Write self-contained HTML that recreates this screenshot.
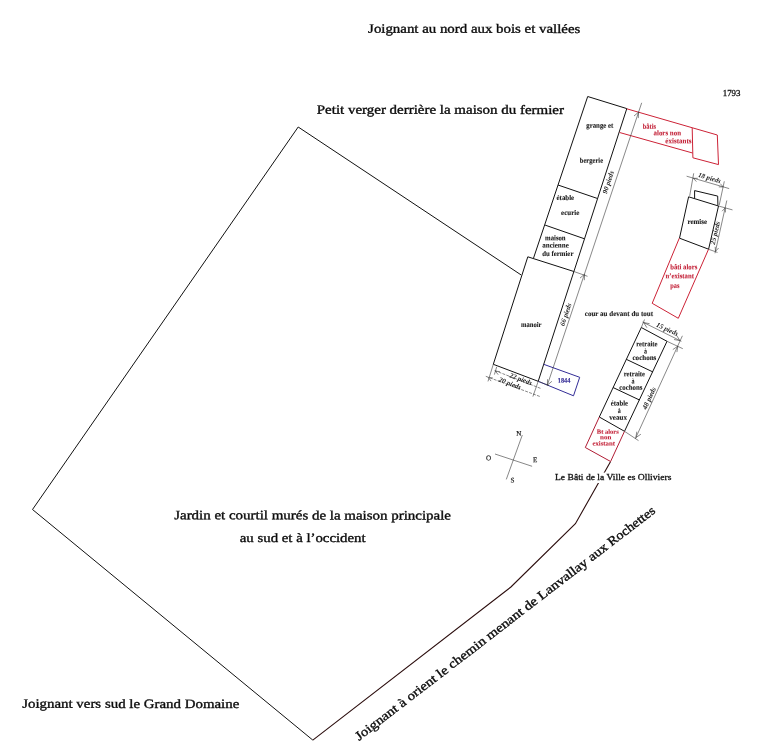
<!DOCTYPE html>
<html><head><meta charset="utf-8">
<style>
html,body{margin:0;padding:0;background:#fff;}
body{width:768px;height:752px;overflow:hidden;}
svg{display:block;will-change:transform;}
text{font-family:"Liberation Serif",serif;}
.t{font-size:12.8px;fill:#0c0c0c;stroke:#0c0c0c;stroke-width:.35;}
.l{font-size:7.3px;font-weight:bold;fill:#1c1c1c;stroke:#1c1c1c;stroke-width:.12;}
.r{font-size:7.3px;font-weight:bold;fill:#c4263c;stroke:#c4263c;stroke-width:.1;}
.d{font-size:7px;font-style:italic;font-weight:bold;fill:#222;}
.c{font-size:7.1px;fill:#222;stroke:#222;stroke-width:.2;}
.k{stroke:#111;stroke-width:1.0;fill:none;stroke-linejoin:miter;}
.g{stroke:#111;stroke-width:1.0;fill:none;}
.rd{stroke:#cc2236;stroke-width:1.0;fill:none;}
.bl{stroke:#322c96;stroke-width:1;fill:none;}
.dm{stroke:#383838;stroke-width:0.6;fill:none;}
</style></head><body>
<svg width="768" height="752" viewBox="0 0 768 752">

<!-- garden outline -->
<polyline class="g" points="521.2,275 298.2,127 32.5,509.5 312.8,740.1"/>
<polyline points="312.8,740.1 510.9,587 575.4,523.7 610.6,461.5" fill="none" stroke="#2c0e0e" stroke-width="1.1"/>

<!-- main long building -->
<polyline class="k" points="533.5,258.2 587.7,96.5 626.8,108.6 573.9,271.5"/>
<line class="k" x1="558" y1="185" x2="597.2" y2="198.4"/>
<line class="k" x1="545.1" y1="225.1" x2="584.2" y2="238.7"/>
<!-- manoir -->
<polygon class="k" points="527.8,256.8 573.9,271.5 538.2,381.3 493.3,364.3"/>

<!-- blue 1844 -->
<polyline class="bl" points="543.7,364.3 579.7,377.3 573.5,395.8 538.2,381.3"/>
<text transform="rotate(0.06 564 382)" x="557.8" y="382.7" textLength="12.6" lengthAdjust="spacingAndGlyphs" style="font-size:7.1px;font-weight:bold;fill:#3a3299;stroke:#3a3299;stroke-width:.15">1844</text>

<!-- red batis top -->
<polyline class="rd" points="626.8,108.8 717.3,135 718.5,164.6 692.9,157.8 692.2,128"/>
<line class="rd" x1="619.6" y1="132.5" x2="692.6" y2="153"/>

<!-- remise -->
<polygon class="k" points="688.6,196.8 718.5,206 708.6,249.2 679.5,238.2"/>
<polyline class="k" points="694.6,198.4 694.6,190.6 717.7,196.1 717.9,205.6"/>
<!-- red below remise -->
<polyline class="rd" points="679.3,238.2 652.2,303.3 678.3,318.3 708.5,249.3"/>

<!-- right building -->
<polygon class="k" points="641.3,327.5 667,341.3 624.5,431.3 599.3,417"/>
<line class="k" x1="626.3" y1="359.3" x2="653" y2="372"/>
<line class="k" x1="613" y1="387.5" x2="639.5" y2="400"/>
<polyline class="rd" style="stroke:#b01c34" points="599.3,417 585.3,447.5 610.6,461.5 624.5,431.3"/>

<!-- compass -->
<line x1="522.3" y1="435" x2="506.3" y2="479.4" style="stroke:#3c3c3c;stroke-width:.62"/>
<line x1="495" y1="454" x2="532.1" y2="466.3" style="stroke:#3c3c3c;stroke-width:.62"/>
<text class="c" transform="rotate(0.06 518 435)" x="518.8" y="435.8" text-anchor="middle">N</text>
<text class="c" transform="rotate(0.06 488 460)" x="488.5" y="460.2" text-anchor="middle">O</text>
<text class="c" transform="rotate(0.06 535 462)" x="535.3" y="462.3" text-anchor="middle">E</text>
<text class="c" transform="rotate(0.06 512 482)" x="512.5" y="482.6" text-anchor="middle">S</text>

<g class="dm">
<line x1="641.7" y1="102.8" x2="547.3" y2="385.2"/>
<polyline points="634.0,116.0 638.6,112.1 638.3,118.1"/>
<polyline points="580.0,278.1 584.6,274.2 584.3,280.2"/>
<polyline points="551.9,381.3 547.3,385.2 547.6,379.2"/>
<line x1="573.9" y1="271.5" x2="587.5" y2="276.3"/>
<line x1="538.2" y1="381.3" x2="549" y2="385.6"/>
<line x1="493.3" y1="364.3" x2="488" y2="381.4"/>
<line x1="538.2" y1="381.3" x2="532.9" y2="396.6"/>
<line x1="494.6" y1="370.5" x2="541.4" y2="388.7" stroke-dasharray="3 1.2"/>
<line x1="485.8" y1="376.3" x2="540.7" y2="396.8" stroke-dasharray="3 1.2"/>
<polyline points="498.2,374.7 495.4,371.2 499.9,371.6"/>
<polyline points="491.1,381.1 488.3,377.6 492.8,377.9"/>
<line x1="496.7" y1="366.8" x2="494.4" y2="374.6"/>
<line x1="686.6" y1="176.2" x2="729.2" y2="188.6"/>
<polyline points="696.4,181.6 693.3,178.3 697.8,178.3"/>
<polyline points="720.2,183.6 723.3,186.9 718.8,186.9"/>
<line x1="693.7" y1="173.3" x2="689.7" y2="195.9"/>
<line x1="724.3" y1="181.3" x2="719.2" y2="205.2"/>
<line x1="726.8" y1="200.5" x2="715" y2="253.3"/>
<line x1="718.5" y1="206" x2="732.5" y2="209.9"/>
<line x1="708.3" y1="249.2" x2="717.5" y2="252.4"/>
<polyline points="722.1,211.2 725.2,207.9 725.5,212.4"/>
<polyline points="718.6,248.0 715.5,251.3 715.2,246.8"/>
<line x1="642.6" y1="322" x2="681.4" y2="341.3"/>
<line x1="641.3" y1="327.5" x2="644.5" y2="319.5"/>
<line x1="667" y1="341.3" x2="682.8" y2="348.7"/>
<polyline points="646.9,327.7 643.7,322.6 649.6,323.7"/>
<polyline points="676.7,335.5 679.9,340.6 674.0,339.5"/>
<line x1="682.4" y1="335.8" x2="635.3" y2="438.8"/>
<line x1="624.5" y1="431.3" x2="638.5" y2="440.6"/>
<polyline points="672.8,349.6 677.8,346.2 676.9,352.1"/>
<polyline points="640.9,434.2 635.9,437.6 636.8,431.7"/>
</g>
<text class="d" transform="translate(608.1,182.2) rotate(-71.8)" y="2.4" text-anchor="middle">90 pieds</text>
<text class="d" transform="translate(565.6,314.5) rotate(-71.8)" y="2.4" text-anchor="middle">66 pieds</text>
<text class="d" transform="translate(709.6,177.8) rotate(16.0)" y="2.4" text-anchor="middle">18 pieds</text>
<text class="d" transform="translate(715.1,232.9) rotate(-77.0)" y="2.4" text-anchor="middle">25 pieds</text>
<text class="d" transform="translate(667.4,329.0) rotate(24.5)" y="2.4" text-anchor="middle">15 pieds</text>
<text class="d" transform="translate(649.0,398.3) rotate(-65.5)" y="2.4" text-anchor="middle">48 pieds</text>
<text class="d" transform="translate(520.9,379.0) rotate(21.0)" y="2.4" text-anchor="middle" style="font-size:7px">22 pieds</text>
<text class="d" transform="translate(510.0,383.3) rotate(21.0)" y="2.4" text-anchor="middle" style="font-size:7px">20 pieds</text>
<text class="t" transform="rotate(0.06 474.2 32.8)" x="368.1" y="32.8" textLength="212.2" lengthAdjust="spacingAndGlyphs">Joignant au nord aux bois et vallées</text>
<text class="t" transform="rotate(0.06 440.4 113.8)" x="316.8" y="113.8" textLength="247.2" lengthAdjust="spacingAndGlyphs">Petit verger derrière la maison du fermier</text>
<text class="t" transform="rotate(0.06 312.6 519.4)" x="174.2" y="519.4" textLength="276.8" lengthAdjust="spacingAndGlyphs">Jardin et courtil murés de la maison principale</text>
<text class="t" transform="rotate(0.06 302.7 542.0)" x="239.8" y="542.0" textLength="125.8" lengthAdjust="spacingAndGlyphs">au sud et à l’occident</text>
<text class="t" transform="rotate(0.06 130.8 707.9)" x="22.2" y="707.9" textLength="217.1" lengthAdjust="spacingAndGlyphs">Joignant vers sud le Grand Domaine</text>
<g transform="translate(359,741) rotate(-37.6)"><text class="t" x="0" y="0" textLength="315.2" lengthAdjust="spacingAndGlyphs">Joignant à orient le chemin menant de Lanvallay aux</text><text class="t" x="318.7" y="0" textLength="56.3" lengthAdjust="spacingAndGlyphs">Rochettes</text></g>
<rect x="553" y="472.6" width="120" height="10.4" fill="#fff"/>
<text x="555" y="479.7" textLength="116.4" lengthAdjust="spacingAndGlyphs" style="font-size:9px;fill:#111;stroke:#111;stroke-width:.3">Le Bâti de la Ville es Olliviers</text>
<text x="722.7" y="96" textLength="17.8" lengthAdjust="spacingAndGlyphs" style="font-size:8.5px;fill:#111;stroke:#111;stroke-width:.28">1793</text>
<text class="l" transform="rotate(0.06 599.8 127.7)" x="586.3" y="127.7" textLength="27.0" lengthAdjust="spacingAndGlyphs">grange et</text>
<text class="l" transform="rotate(0.06 591.5 162.8)" x="579.8" y="162.8" textLength="23.3" lengthAdjust="spacingAndGlyphs">bergerie</text>
<text class="l" transform="rotate(0.06 565.4 200.0)" x="556.5" y="200.0" textLength="17.7" lengthAdjust="spacingAndGlyphs">étable</text>
<text class="l" transform="rotate(0.06 570.2 214.9)" x="561.1" y="214.9" textLength="18.2" lengthAdjust="spacingAndGlyphs">ecurie</text>
<text class="l" transform="rotate(0.06 555.4 240.2)" x="545.1" y="240.2" textLength="20.5" lengthAdjust="spacingAndGlyphs">maison</text>
<text class="l" transform="rotate(0.06 555.5 247.6)" x="542.3" y="247.6" textLength="26.5" lengthAdjust="spacingAndGlyphs">ancienne</text>
<text class="l" transform="rotate(0.06 557.8 256.0)" x="542.3" y="256.0" textLength="31.1" lengthAdjust="spacingAndGlyphs">du fermier</text>
<text class="l" transform="rotate(0.06 531.2 327.1)" x="521.0" y="327.1" textLength="20.4" lengthAdjust="spacingAndGlyphs">manoir</text>
<text class="l" transform="rotate(0.06 619.0 316.0)" x="584.8" y="316.0" textLength="68.3" lengthAdjust="spacingAndGlyphs">cour au devant du tout</text>
<text class="l" transform="rotate(0.06 697.2 223.9)" x="687.5" y="223.9" textLength="19.5" lengthAdjust="spacingAndGlyphs">remise</text>
<text class="l" transform="rotate(0.06 646.9 346.2)" x="636.3" y="346.2" textLength="21.2" lengthAdjust="spacingAndGlyphs">retraite</text>
<text class="l" transform="rotate(0.06 645.5 353.5)" x="644.0" y="353.5" textLength="3.0" lengthAdjust="spacingAndGlyphs">à</text>
<text class="l" transform="rotate(0.06 644.4 360.0)" x="632.5" y="360.0" textLength="23.8" lengthAdjust="spacingAndGlyphs">cochons</text>
<text class="l" transform="rotate(0.06 634.4 376.3)" x="623.8" y="376.3" textLength="21.2" lengthAdjust="spacingAndGlyphs">retraite</text>
<text class="l" transform="rotate(0.06 633.0 383.5)" x="631.5" y="383.5" textLength="3.0" lengthAdjust="spacingAndGlyphs">à</text>
<text class="l" transform="rotate(0.06 630.9 389.8)" x="619.3" y="389.8" textLength="23.2" lengthAdjust="spacingAndGlyphs">cochons</text>
<text class="l" transform="rotate(0.06 619.4 405.5)" x="610.8" y="405.5" textLength="17.2" lengthAdjust="spacingAndGlyphs">étable</text>
<text class="l" transform="rotate(0.06 619.3 413.0)" x="617.8" y="413.0" textLength="3.0" lengthAdjust="spacingAndGlyphs">à</text>
<text class="l" transform="rotate(0.06 618.1 419.8)" x="609.3" y="419.8" textLength="17.7" lengthAdjust="spacingAndGlyphs">veaux</text>
<text class="r" transform="rotate(0.06 649.4 128.8)" x="642.8" y="128.8" textLength="13.2" lengthAdjust="spacingAndGlyphs">bâtis</text>
<text class="r" transform="rotate(0.06 667.2 135.3)" x="653.5" y="135.3" textLength="27.5" lengthAdjust="spacingAndGlyphs">alors non</text>
<text class="r" transform="rotate(0.06 678.4 143.3)" x="665.3" y="143.3" textLength="26.2" lengthAdjust="spacingAndGlyphs">éxistants</text>
<text class="r" transform="rotate(0.06 683.8 269.3)" x="670.2" y="269.3" textLength="27.1" lengthAdjust="spacingAndGlyphs">bâti alors</text>
<text class="r" transform="rotate(0.06 679.7 278.3)" x="665.5" y="278.3" textLength="28.4" lengthAdjust="spacingAndGlyphs">n’existant</text>
<text class="r" transform="rotate(0.06 674.8 288.0)" x="670.2" y="288.0" textLength="9.2" lengthAdjust="spacingAndGlyphs">pas</text>
<text class="r" transform="rotate(0.06 607.8 433.8)" x="596.8" y="433.8" textLength="22.0" lengthAdjust="spacingAndGlyphs" style="font-size:6.4px">Bt alors</text>
<text class="r" transform="rotate(0.06 605.6 439.3)" x="600.0" y="439.3" textLength="11.3" lengthAdjust="spacingAndGlyphs" style="font-size:6.4px">non</text>
<text class="r" transform="rotate(0.06 603.8 445.5)" x="592.5" y="445.5" textLength="22.5" lengthAdjust="spacingAndGlyphs" style="font-size:6.4px">existant</text>
</svg>
</body></html>
